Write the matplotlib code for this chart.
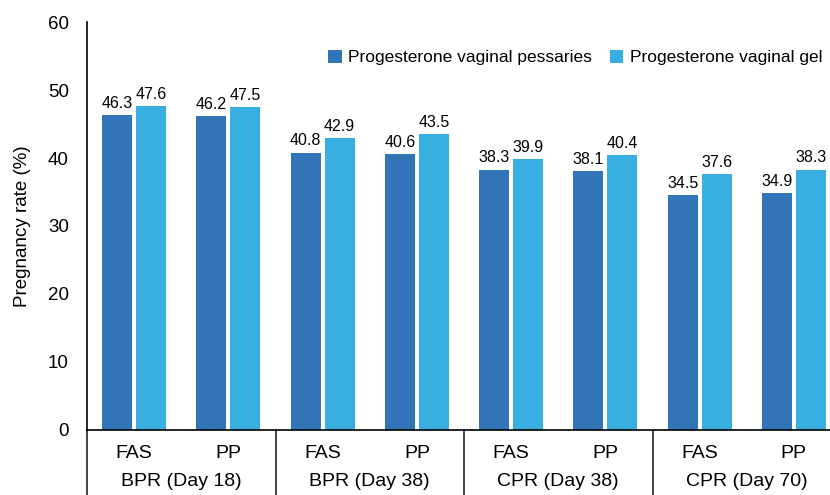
import numpy as np
import matplotlib
matplotlib.use('Agg')
import matplotlib.pyplot as plt
from matplotlib.lines import Line2D

plt.rcParams['font.family'] = ['Liberation Sans', 'DejaVu Sans']

# =============================================================================
# DATA
# =============================================================================
groups = ['BPR (Day 18)', 'BPR (Day 38)', 'CPR (Day 38)', 'CPR (Day 70)']
subsets = ['FAS', 'PP']
pessaries = [46.3, 46.2, 40.8, 40.6, 38.3, 38.1, 34.5, 34.9]
gel = [47.6, 47.5, 42.9, 43.5, 39.9, 40.4, 37.6, 38.3]
series_names = ['Progesterone vaginal pessaries', 'Progesterone vaginal gel']

c_dark = '#3174B8'
c_light = '#39AEE0'

# =============================================================================
# FIGURE
# =============================================================================
fig = plt.figure(figsize=(8.30, 4.95), dpi=100)
ax = fig.add_axes([87/830, 65/495, 754/830, 408/495])

x = np.arange(len(pessaries))
w = 0.32
off = 0.18
b1 = ax.bar(x - off, pessaries, w, color=c_dark, label=series_names[0])
b2 = ax.bar(x + off, gel, w, color=c_light, label=series_names[1])

for bars, vals in [(b1, pessaries), (b2, gel)]:
    for b, v in zip(bars, vals):
        ax.annotate(f'{v:.1f}', (b.get_x() + b.get_width()/2, v),
                    xytext=(0, 3), textcoords='offset points',
                    ha='center', va='bottom', fontsize=11.5)

ax.set_xlim(-0.5, len(x) - 0.5)
ax.set_ylim(0, 60)
ax.set_yticks(np.arange(0, 61, 10))
ax.tick_params(axis='y', length=0, pad=13, labelsize=13.5)
ax.set_xticks([])
ax.set_ylabel('Pregnancy rate (%)', fontsize=13.5, labelpad=12)

for s in ['top', 'right']:
    ax.spines[s].set_visible(False)
ax.spines['left'].set_linewidth(1.2)
ax.spines['bottom'].set_linewidth(1.2)

# two-level category axis
trans = ax.get_xaxis_transform()
below = -65/408
for i in range(len(x)):
    ax.text(x[i], -23/408, subsets[i % 2], transform=trans,
            ha='center', va='center', fontsize=14)
for g, name in enumerate(groups):
    ax.text(2*g + 0.5, -51/408, name, transform=trans,
            ha='center', va='center', fontsize=14)
for xs in [-0.5, 1.5, 3.5, 5.5]:
    ax.add_line(Line2D([xs, xs], [0, below], transform=trans,
                       color='#222222', lw=1.2, clip_on=False))

leg = ax.legend(loc='center right', bbox_to_anchor=((822 - 87)/754, 1 - 35.5/408),
                ncol=2, frameon=False, fontsize=12.5, handlelength=0.8,
                handleheight=0.8, handletextpad=0.35, columnspacing=1.0,
                borderaxespad=0, borderpad=0)

fig.savefig('out.png', dpi=100)
